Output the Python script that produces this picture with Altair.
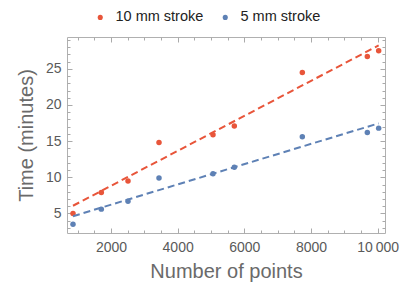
import altair as alt
import pandas as pd

points = [860, 1710, 2510, 3440, 5060, 5700, 7740, 9690, 10030]
time_10mm = [5.0, 7.9, 9.5, 14.8, 15.9, 17.1, 24.5, 26.7, 27.5]
time_5mm = [3.5, 5.6, 6.7, 9.9, 10.5, 11.4, 15.6, 16.2, 16.8]
series = ["10 mm stroke", "5 mm stroke"]
colors = ["#E8553A", "#5E81B5"]

x_labels = [2000, 4000, 6000, 8000, 10000]
x_minor = list(range(1000, 10001, 500))
y_labels = [5, 10, 15, 20, 25]
y_minor = list(range(3, 30))

W, H = 318, 196
X_DOMAIN = [680, 10220]
Y_DOMAIN = [2.3, 29.4]

df = pd.concat([
    pd.DataFrame({"n": points, "t": time_10mm, "s": series[0]}),
    pd.DataFrame({"n": points, "t": time_5mm, "s": series[1]}),
])

FONT = "Liberation Sans"
TICK = "#aaaaaa"
LAB = "#5a5a5a"

xs = alt.Scale(domain=X_DOMAIN, nice=False, zero=False)
ys = alt.Scale(domain=Y_DOMAIN, nice=False, zero=False)
cs = alt.Scale(domain=series, range=colors)

def tick_axis(orient, offset, values, major):
    return alt.Axis(
        orient=orient, offset=offset, values=values, labels=False, title=None,
        domain=False, grid=False, ticks=True, tickColor=TICK, tickWidth=1,
        tickSize={"condition": {"test": f"datum.value % {major} === 0", "value": 5}, "value": 3},
    )

base = alt.Chart(df)

pts = base.mark_circle(size=30, opacity=1).encode(
    x=alt.X("n:Q", scale=xs, axis=alt.Axis(
        orient="bottom", values=x_labels, title="Number of points", ticks=False, tickSize=0,
        domain=False, grid=False, labelPadding=7,
        labelExpr="datum.value >= 10000 ? replace(format(datum.value, ','), ',', '\u2009') : format(datum.value, 'd')",
        titlePadding=7)),
    y=alt.Y("t:Q", scale=ys, axis=alt.Axis(
        orient="left", values=y_labels, title="Time (minutes)", ticks=False, tickSize=0,
        domain=False, grid=False, labelPadding=6, titlePadding=9)),
    color=alt.Color("s:N", scale=cs, title=None, legend=alt.Legend(
        orient="none", legendX=26, legendY=-27, direction="horizontal",
        symbolType="circle", symbolSize=26, labelFontSize=14.5, labelColor="#222222",
        labelFont=FONT, columnPadding=14, labelOffset=8, symbolStrokeWidth=0)),
)

fit = base.transform_regression("n", "t", groupby=["s"]).mark_line(
    strokeDash=[7, 4], strokeWidth=2).encode(
    x=alt.X("n:Q", scale=xs, axis=tick_axis("top", -H, x_minor, 2000)),
    y=alt.Y("t:Q", scale=ys, axis=tick_axis("right", -W, y_minor, 5)),
    color=alt.Color("s:N", scale=cs, legend=None),
)

ghost = base.mark_point(opacity=0).encode(
    x=alt.X("n:Q", scale=xs, axis=tick_axis("bottom", -H, x_minor, 2000)),
    y=alt.Y("t:Q", scale=ys, axis=tick_axis("left", -W, y_minor, 5)),
)

chart = alt.layer(pts, fit, ghost).resolve_axis(x="independent", y="independent").properties(
    width=W, height=H,
    autosize=alt.AutoSizeParams(type="none"),
    padding={"left": 59, "top": 29, "right": 20, "bottom": 49},
).configure_view(stroke="#b0b0b0", strokeWidth=1).configure_axis(
    labelFont=FONT, titleFont=FONT, labelFontSize=14, titleFontSize=20,
    labelColor=LAB, titleColor="#6a6a6a", titleFontWeight="normal",
).configure_legend(labelFont=FONT)

chart.save("out.html", embed_options={"renderer": "svg", "actions": False})
